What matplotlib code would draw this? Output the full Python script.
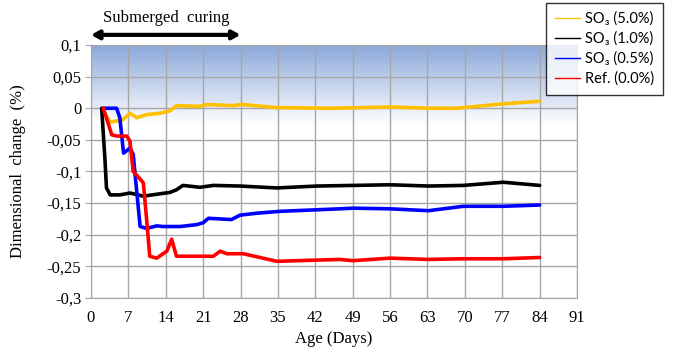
#!/usr/bin/env python
'''Dimensional change vs age for mortars with different SO3 content'''

import numpy as np
import matplotlib
matplotlib.use('Agg')
import matplotlib.pyplot as plt
from matplotlib.ticker import FuncFormatter

# values (days, %)
so3_50_days = [2, 3.6, 6, 7.3, 8.6, 10.4, 12.9, 14.8, 16, 20.4, 21.7, 26.6, 28.2, 34.8, 44.8, 56, 63.2, 68.5, 77.2, 84]
so3_50_vals = [0, -0.022, -0.018, -0.008, -0.015, -0.010, -0.008, -0.004, 0.004, 0.003, 0.006, 0.004, 0.006, 0.001,
               0.0, 0.002, 0.0, 0.0, 0.007, 0.011]

so3_10_days = [2, 2.6, 2.9, 3.6, 5.4, 7.3, 9.8, 12.3, 14.8, 16, 17.2, 20.4, 22.9, 27.9, 34.8, 42.3, 49.1, 56, 63.2,
               69.7, 77.2, 84]
so3_10_vals = [0, -0.079, -0.126, -0.137, -0.137, -0.134, -0.139, -0.136, -0.133, -0.129, -0.122, -0.125, -0.122,
               -0.123, -0.126, -0.123, -0.122, -0.121, -0.123, -0.122, -0.117, -0.122]

so3_05_days = [2.3, 4.8, 5.4, 6.1, 7.3, 7.9, 8.5, 9.2, 10.4, 12.3, 13.5, 16.7, 19.8, 21, 22, 24.2, 26.3, 27.9, 31,
               35.4, 46.6, 49, 56, 63.2, 69.7, 77.2, 84]
so3_05_vals = [0, 0, -0.015, -0.071, -0.063, -0.073, -0.126, -0.187, -0.190, -0.186, -0.187, -0.187, -0.184, -0.181,
               -0.174, -0.175, -0.176, -0.169, -0.166, -0.163, -0.159, -0.158, -0.159, -0.162, -0.155, -0.155, -0.153]

ref_days = [2.3, 3.9, 4.8, 6.7, 7.3, 7.9, 8.9, 9.8, 10.4, 11, 12.3, 14.2, 15.1, 16, 17.9, 22.9, 24.2, 25.4, 28.5,
            34.8, 46.6, 49, 56, 63.2, 69.7, 77.2, 84]
ref_vals = [0, -0.042, -0.044, -0.044, -0.052, -0.100, -0.109, -0.118, -0.174, -0.234, -0.237, -0.226, -0.207,
            -0.234, -0.234, -0.234, -0.226, -0.230, -0.230, -0.242, -0.239, -0.241, -0.237, -0.239, -0.238, -0.238,
            -0.236]

x_ticks = list(range(0, 92, 7))
y_ticks = [-0.3, -0.25, -0.2, -0.15, -0.1, -0.05, 0, 0.05, 0.1]

serif = 'Liberation Serif'
grid_col = '#a6a6a6'

fig = plt.figure(figsize=(6.77, 3.48), dpi=100)
ax = fig.add_axes([0.1344, 0.1437, 0.7179, 0.727])

# blue-to-white background gradient in the upper part
ny = 400
ys = np.linspace(0.1, -0.3, ny)
frac = np.clip((ys + 0.025) / 0.125, 0, 1)[:, None]
top = np.array([0.545, 0.66, 0.855])
img = (1 - frac[..., None]) * np.ones(3) + frac[..., None] * top
img = np.repeat(img, 2, axis=1)
ax.imshow(img, extent=[0, 91, -0.3, 0.1], aspect='auto', zorder=0, interpolation='bilinear')

ax.set_xlim(0, 91)
ax.set_ylim(-0.3, 0.1)
ax.set_xticks(x_ticks)
ax.set_yticks(y_ticks)
ax.grid(True, color=grid_col, lw=1, zorder=1)
ax.set_axisbelow(False)
for s in ax.spines.values():
    s.set_color(grid_col)
ax.tick_params(axis='y', length=4, color=grid_col, pad=3)
ax.tick_params(axis='x', length=0, pad=9)
ax.yaxis.set_major_formatter(FuncFormatter(lambda v, p: ('%g' % round(v, 2)).replace('.', ',')))
for lab in ax.get_xticklabels() + ax.get_yticklabels():
    lab.set_fontfamily(serif)
    lab.set_fontsize(12)

lines = [
    (so3_50_days, so3_50_vals, '#ffc000', 'SO₃ (5.0%)'),
    (so3_10_days, so3_10_vals, 'black', 'SO₃ (1.0%)'),
    (so3_05_days, so3_05_vals, '#0000ff', 'SO₃ (0.5%)'),
    (ref_days, ref_vals, '#ff0000', 'Ref. (0.0%)'),
]
handles = []
for d, v, c, lab in lines:
    ax.plot(d, v, color=c, lw=2.6, solid_joinstyle='round', solid_capstyle='round', zorder=3)
    h, = ax.plot([], [], color=c, lw=1, label=lab)
    handles.append(h)

leg = fig.legend(handles=handles, loc='upper left', bbox_to_anchor=(546 / 677, 1 - 3 / 348),
                 frameon=True, fancybox=False, edgecolor='black', handlelength=1.75, handletextpad=0.3,
                 borderpad=0.6, borderaxespad=0, labelspacing=0.38,
                 prop={'family': ['Lato', 'DejaVu Sans'], 'size': 10.5})
leg.get_frame().set_linewidth(1.0)

ax.set_xlabel('Age (Days)', fontfamily=serif, fontsize=12, labelpad=3)
ax.set_ylabel('Dimensional  change  (%)', fontfamily=serif, fontsize=12, labelpad=15)

# submerged curing arrow above the plot
ax.annotate('', xy=(0, 0.116), xytext=(28, 0.116), annotation_clip=False,
            arrowprops=dict(arrowstyle='<|-|>,head_length=0.45,head_width=0.25', lw=3, color='black',
                            shrinkA=0, shrinkB=0))
ax.text(14, 0.142, 'Submerged  curing', ha='center', va='center', fontfamily=serif, fontsize=12)

fig.savefig('out.png', dpi=100)
